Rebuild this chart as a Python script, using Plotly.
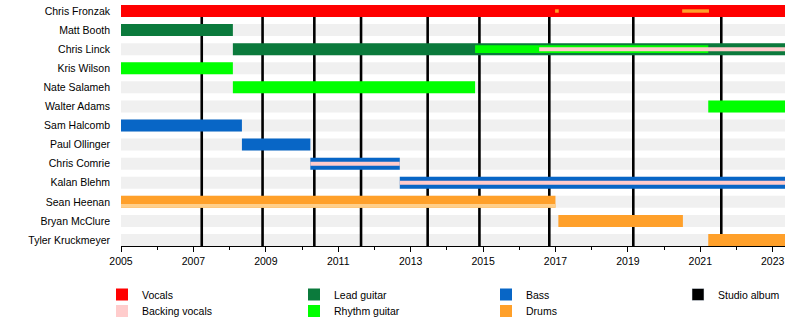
import plotly.graph_objects as go

# ---------------- data ----------------
members = ["Chris Fronzak", "Matt Booth", "Chris Linck", "Kris Wilson", "Nate Salameh",
           "Walter Adams", "Sam Halcomb", "Paul Ollinger", "Chris Comrie", "Kalan Blehm",
           "Sean Heenan", "Bryan McClure", "Tyler Kruckmeyer"]
START = 2005.0
END = 2023.34

vocals_who = ["Chris Fronzak"]
vocals_from = [2005.0]
vocals_to = [END]

lead_who = ["Matt Booth", "Chris Linck"]
lead_from = [2005.0, 2008.09]
lead_to = [2008.09, END]

rhythm_who = ["Kris Wilson", "Nate Salameh", "Chris Linck", "Walter Adams"]
rhythm_from = [2005.0, 2008.09, 2014.78, 2021.22]
rhythm_to = [2008.09, 2014.78, 2021.22, END]

bass_who = ["Sam Halcomb", "Paul Ollinger", "Chris Comrie", "Kalan Blehm"]
bass_from = [2005.0, 2008.34, 2010.23, 2012.70]
bass_to = [2008.34, 2010.23, 2012.70, END]

backing_who = ["Chris Linck", "Chris Comrie", "Kalan Blehm"]
backing_from = [2016.55, 2010.23, 2012.70]
backing_to = [END, 2012.70, END]

drums_who = ["Sean Heenan", "Bryan McClure", "Tyler Kruckmeyer"]
drums_from = [2005.0, 2017.08, 2021.22]
drums_to = [2017.0, 2020.52, END]

extra_drums_who = ["Chris Fronzak", "Chris Fronzak"]
extra_drums_from = [2016.99, 2020.50]
extra_drums_to = [2017.09, 2021.24]

albums = [2007.23, 2008.91, 2010.34, 2011.63, 2013.47, 2014.90, 2016.83, 2019.15, 2021.58]

year_ticks = list(range(2005, 2024, 2))

legend_labels = ["Vocals", "Backing vocals", "Lead guitar", "Rhythm guitar",
                 "Bass", "Drums", "Studio album"]

# ---------------- styling ----------------
C_VOC = "#FF0000"
C_BACK = "#FFCCCC"
C_LEAD = "#0B7A3C"
C_RHY = "#00FF00"
C_BASS = "#0866C6"
C_DRUM = "#FFA02A"
C_DRUM_LIGHT = "#FFCF8A"
C_STRIPE = "#F0F0F0"
FONT = "Liberation Sans, Arial, sans-serif"
FS = 10.5

W, H = 800, 335
ML, MR, MT, MB = 121, 15, 5, 89
PW, PH = W - ML - MR, H - MT - MB

row = {m: i for i, m in enumerate(members)}
BW = 0.63

# legend slots: label -> (legend id, swatch centre x px, row centre y px)
col_x = [122, 314, 506, 698]
row_y = [294, 310.5]
legend_slot = {
    "Vocals": ("legend", col_x[0], row_y[0]),
    "Backing vocals": ("legend2", col_x[0], row_y[1]),
    "Lead guitar": ("legend3", col_x[1], row_y[0]),
    "Rhythm guitar": ("legend4", col_x[1], row_y[1]),
    "Bass": ("legend5", col_x[2], row_y[0]),
    "Drums": ("legend6", col_x[2], row_y[1]),
    "Studio album": ("legend7", col_x[3], row_y[0]),
}


def hbar(who, t0, t1, color, name, width, showlegend=True, offset=None):
    n = len(who)
    kw = {}
    if offset is not None:
        kw["offset"] = [offset] * n
    if showlegend:
        kw["legend"] = legend_slot[name][0]
    return go.Bar(
        orientation="h",
        y=[row[w] for w in who],
        base=t0,
        x=[b - a for a, b in zip(t0, t1)],
        width=[width] * n,
        marker=dict(color=color, line=dict(width=0)),
        name=name,
        showlegend=showlegend,
        xaxis="x2", yaxis="y2",
        hoverinfo="skip",
        **kw,
    )


fig = go.Figure()

# background stripes (base subplot)
fig.add_trace(go.Bar(
    orientation="h",
    y=list(range(len(members))),
    base=[START] * len(members),
    x=[END - START] * len(members),
    width=[BW] * len(members),
    marker=dict(color=C_STRIPE, line=dict(width=0)),
    showlegend=False, hoverinfo="skip", xaxis="x", yaxis="y",
))

# studio album lines (base subplot, below the member bars)
ax, ay = [], []
for a in albums:
    ax += [a, a, None]
    ay += [0, len(members) - 1 + 0.315, None]
fig.add_trace(go.Scatter(x=ax, y=ay, mode="lines",
                         line=dict(color="black", width=2.6),
                         showlegend=False, hoverinfo="skip", xaxis="x", yaxis="y"))

# member bars (overlay subplot)
fig.add_trace(hbar(vocals_who, vocals_from, vocals_to, C_VOC, "Vocals", BW))
fig.add_trace(hbar(lead_who, lead_from, lead_to, C_LEAD, "Lead guitar", BW))
fig.add_trace(hbar(bass_who, bass_from, bass_to, C_BASS, "Bass", BW))
fig.add_trace(hbar(drums_who, drums_from, drums_to, C_DRUM, "Drums", BW))
fig.add_trace(hbar(["Sean Heenan"], [drums_from[0]], [drums_to[0]], C_DRUM_LIGHT,
                   "Drums", 0.2, showlegend=False, offset=BW / 2 - 0.2))
r_full = [i for i, w in enumerate(rhythm_who) if w not in lead_who]
r_thin = [i for i, w in enumerate(rhythm_who) if w in lead_who]
fig.add_trace(hbar([rhythm_who[i] for i in r_full], [rhythm_from[i] for i in r_full],
                   [rhythm_to[i] for i in r_full], C_RHY, "Rhythm guitar", BW))
fig.add_trace(hbar([rhythm_who[i] for i in r_thin], [rhythm_from[i] for i in r_thin],
                   [rhythm_to[i] for i in r_thin], C_RHY, "Rhythm guitar", 0.40,
                   showlegend=False))
fig.add_trace(hbar(backing_who, backing_from, backing_to, C_BACK, "Backing vocals", 0.21))
fig.add_trace(hbar(extra_drums_who, extra_drums_from, extra_drums_to, C_DRUM, "Drums",
                   0.18, showlegend=False))
fig.add_trace(go.Bar(orientation="h", x=[None], y=[None], name="Studio album",
                     marker=dict(color="black"), legend="legend7",
                     xaxis="x2", yaxis="y2", hoverinfo="skip"))

yr = [len(members) - 1 + 0.315, -0.315]
xr = [START, END]

legends = {}
for lab in legend_labels:
    lid, cx, cy = legend_slot[lab]
    legends[lid] = dict(
        orientation="h",
        x=(cx - 20 - ML) / PW, xanchor="left",
        y=-(cy - 14 - (MT + PH)) / PH, yanchor="top",
        font=dict(family=FONT, size=FS),
        bgcolor="rgba(0,0,0,0)", borderwidth=0,
    )

fig.update_layout(
    width=W, height=H,
    margin=dict(l=ML, r=MR, t=MT, b=MB, autoexpand=False),
    paper_bgcolor="white", plot_bgcolor="white",
    barmode="overlay",
    font=dict(family=FONT, size=FS, color="black"),
    xaxis=dict(range=xr, tickvals=year_ticks, ticktext=[str(v) for v in year_ticks],
               ticks="outside", ticklen=5, tickwidth=1, tickcolor="black",
               minor=dict(dtick=1, tick0=2005, ticks="outside", ticklen=3,
                          tickcolor="black", showgrid=False),
               showline=True, linecolor="black", linewidth=1,
               showgrid=False, zeroline=False, fixedrange=True),
    yaxis=dict(range=yr, tickvals=list(range(len(members))), ticktext=members,
               ticks="", showgrid=False, zeroline=False, showline=False,
               ticklabelstandoff=10, fixedrange=True),
    xaxis2=dict(overlaying="x", range=xr, visible=False, fixedrange=True),
    yaxis2=dict(overlaying="y", range=yr, visible=False, fixedrange=True),
    **legends,
)

fig.write_html("out.html")
